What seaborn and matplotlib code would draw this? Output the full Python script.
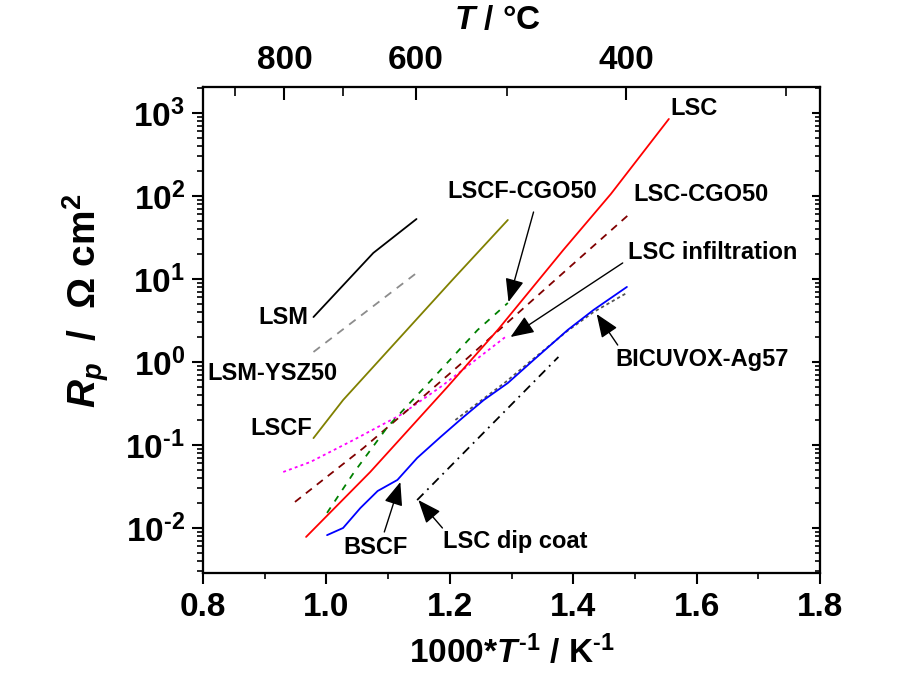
import numpy as np
import pandas as pd
import matplotlib
matplotlib.use("Agg")
import matplotlib.pyplot as plt
import seaborn as sns
from matplotlib.ticker import LogLocator, FixedLocator, FuncFormatter, NullFormatter, MultipleLocator

# ---- data: 1000/T (K^-1) vs polarisation resistance (Ohm cm^2) ----
lsm_x = [0.979, 1.076, 1.146]
lsm_y = [3.48, 20.6, 52.8]

lsm_ysz_x = [0.979, 1.146]
lsm_ysz_y = [1.32, 11.8]

lscf_x = [0.979, 1.027, 1.204, 1.294]
lscf_y = [0.121, 0.348, 9.72, 51.4]

lscf_cgo_x = [1.001, 1.044, 1.099, 1.173, 1.245, 1.294]
lscf_cgo_y = [0.0152, 0.046, 0.165, 0.641, 2.43, 5.14]

lsc_x = [0.967, 1.071, 1.196, 1.279, 1.384, 1.461, 1.555]
lsc_y = [0.0078, 0.0473, 0.50, 2.50, 22.4, 105.7, 847]

lsc_cgo_x = [0.949, 1.060, 1.147, 1.229, 1.407, 1.493]
lsc_cgo_y = [0.0206, 0.092, 0.33, 1.12, 16.9, 62.4]

lsc_inf_x = [0.930, 0.974, 1.044, 1.120, 1.185, 1.290]
lsc_inf_y = [0.0473, 0.0624, 0.115, 0.23, 0.50, 2.0]

bscf_x = [1.001, 1.027, 1.055, 1.083, 1.115, 1.147, 1.185, 1.222, 1.255, 1.294,
          1.336, 1.391, 1.433, 1.487]
bscf_y = [0.0082, 0.0100, 0.0174, 0.0279, 0.0379, 0.0697, 0.125, 0.217, 0.348, 0.558,
          1.06, 2.43, 4.24, 8.02]

bicuvox_x = [1.209, 1.290, 1.336, 1.390, 1.433, 1.487]
bicuvox_y = [0.20, 0.57, 1.10, 2.35, 4.0, 6.8]

dip_x = [1.147, 1.376]
dip_y = [0.0217, 1.15]

top_major_c = [800, 600, 400]
top_minor_c = [900, 700, 500, 300]

# ---- style ----
sns.set_theme(style="ticks")
plt.rcParams.update({
    "font.family": ["Liberation Sans", "DejaVu Sans"],
    "font.weight": "bold",
    "axes.labelweight": "bold",
    "mathtext.fontset": "custom",
    "mathtext.rm": "Liberation Sans:bold",
    "mathtext.bf": "Liberation Sans:bold",
    "mathtext.it": "Liberation Sans:italic:bold",
    "mathtext.default": "rm",
    "axes.linewidth": 1.5,
    "text.color": "black",
    "axes.labelcolor": "black",
    "xtick.color": "black",
    "ytick.color": "black",
})

fig = plt.figure(figsize=(9.06, 6.83), dpi=100)
fig.patch.set_facecolor("white")
ax = fig.add_axes([0.2241, 0.1611, 0.6810, 0.7120])

series = [
    (lsm_x, lsm_y, "black", "-"),
    (lsm_ysz_x, lsm_ysz_y, "#8c8c8c", (0, (4.5, 3.8))),
    (lscf_x, lscf_y, "#808000", "-"),
    (lsc_inf_x, lsc_inf_y, "#ff00ff", (0, (1.6, 1.8))),
    (lsc_cgo_x, lsc_cgo_y, "#800000", (0, (4.2, 3.5))),
    (lscf_cgo_x, lscf_cgo_y, "#008000", (0, (3.6, 4.0))),
    (lsc_x, lsc_y, "#ff0000", "-"),
    (bicuvox_x, bicuvox_y, "#555555", (0, (1.8, 1.6))),
    (bscf_x, bscf_y, "#0000ff", "-"),
    (dip_x, dip_y, "black", (0, (5.0, 3.0, 1.0, 3.0))),
]
for xs, ys, col, ls in series:
    sns.lineplot(x=xs, y=ys, ax=ax, color=col, linestyle=ls, linewidth=1.3,
                 estimator=None, sort=False)

ax.set_yscale("log")
ax.set_xlim(0.8, 1.8)
ax.set_ylim(10 ** -2.542, 10 ** 3.317)


def decade_label(v, pos):
    e = int(round(np.log10(v)))
    return rf"$10^{{\text{{{e}}}}}$"


# bottom / left axes: outward ticks
ax.xaxis.set_major_locator(MultipleLocator(0.2))
ax.xaxis.set_minor_locator(MultipleLocator(0.1))
ax.xaxis.set_major_formatter(FuncFormatter(lambda v, p: f"{v:.1f}"))
ax.yaxis.set_major_locator(LogLocator(base=10, numticks=20))
ax.yaxis.set_minor_locator(LogLocator(base=10, subs=np.arange(2, 10), numticks=100))
ax.yaxis.set_major_formatter(FuncFormatter(decade_label))
ax.yaxis.set_minor_formatter(NullFormatter())
ax.tick_params(axis="both", which="major", direction="out", length=8, width=1.5,
               labelsize=24, top=False, right=False)
ax.tick_params(axis="both", which="minor", direction="out", length=4, width=1.2,
               top=False, right=False)
ax.tick_params(axis="x", which="major", pad=6)
ax.tick_params(axis="y", which="major", pad=5)
for lab in ax.get_xticklabels() + ax.get_yticklabels():
    lab.set_fontweight("bold")

ax.set_xlabel(r"1000*$\mathit{T}^{\mathit{\text{-1}}}$ / K$^{\text{-1}}$", fontsize=24, labelpad=8)
ax.set_ylabel(r"$\mathit{R}_{\mathit{p}}$  /  Ω cm$^{2}$", fontsize=28, labelpad=10)
ax.yaxis.label.set_y(0.56)

# right axis: inward ticks, no labels
axr = ax.twinx()
axr.set_yscale("log")
axr.set_ylim(ax.get_ylim())
axr.yaxis.set_major_locator(LogLocator(base=10, numticks=20))
axr.yaxis.set_minor_locator(LogLocator(base=10, subs=np.arange(2, 10), numticks=100))
axr.tick_params(axis="y", which="major", direction="in", length=6, width=1.5, labelright=False)
axr.tick_params(axis="y", which="minor", direction="in", length=3.5, width=1.2, labelright=False)

# top axis: temperature in degC, inward ticks
axt = ax.twiny()
axt.set_xlim(ax.get_xlim())
axt.xaxis.set_major_locator(FixedLocator([1000.0 / (t + 273.15) for t in top_major_c]))
axt.xaxis.set_minor_locator(FixedLocator([1000.0 / (t + 273.15) for t in top_minor_c]))
axt.set_xticklabels([str(t) for t in top_major_c], fontweight="bold")
axt.tick_params(axis="x", which="major", direction="in", length=9, width=1.5, labelsize=24, pad=8)
axt.tick_params(axis="x", which="minor", direction="in", length=6.5, width=1.2)
axt.set_xlabel(r"$\mathit{T}$ / °C", fontsize=24, labelpad=11)
axt.xaxis.label.set_x(0.4765)

for a in (ax, axr, axt):
    for s in a.spines.values():
        s.set_visible(True)
        s.set_linewidth(1.5)
        s.set_color("black")

# series labels
lab_kw = dict(fontsize=17, fontweight="bold", va="center", color="black")
ax.text(0.9705, 3.39, "LSM", ha="right", **lab_kw)
ax.text(0.8065, 0.736, "LSM-YSZ50", ha="left", **lab_kw)
ax.text(0.977, 0.156, "LSCF", ha="right", **lab_kw)
ax.text(1.196, 111.7, "LSCF-CGO50", ha="left", **lab_kw)
ax.text(1.558, 1117, "LSC", ha="left", **lab_kw)
ax.text(1.498, 102.8, "LSC-CGO50", ha="left", **lab_kw)
ax.text(1.488, 20.6, "LSC infiltration", ha="left", **lab_kw)
ax.text(1.4688, 1.06, "BICUVOX-Ag57", ha="left", **lab_kw)
ax.text(1.0273, 0.00574, "BSCF", ha="left", **lab_kw)
ax.text(1.1896, 0.00678, "LSC dip coat", ha="left", **lab_kw)

# leader arrows (tail -> tip)
arrows = [
    ((1.3357, 64.1), (1.2951, 5.28)),
    ((1.4802, 15.6), (1.2984, 2.0)),
    ((1.4721, 1.60), (1.438, 3.78)),
    ((1.0938, 0.00895), (1.1198, 0.0358)),
    ((1.188, 0.0100), (1.149, 0.0217)),
]
for tail, tip in arrows:
    ax.annotate("", xy=tip, xytext=tail,
                arrowprops=dict(arrowstyle="-|>,head_length=0.8,head_width=0.32",
                                color="black", lw=1.0, mutation_scale=18,
                                shrinkA=0, shrinkB=0))

fig.savefig("out.png", dpi=100, facecolor="white")
